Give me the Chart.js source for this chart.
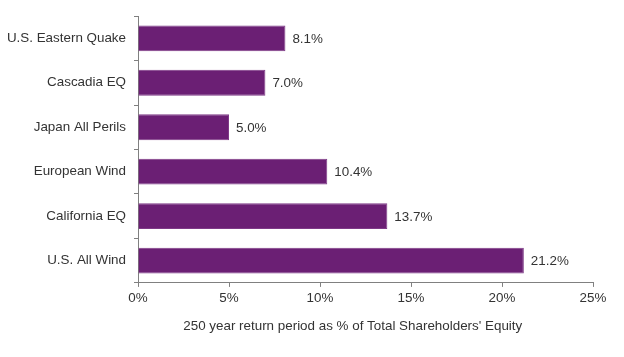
<!DOCTYPE html>
<html><head><meta charset="utf-8">
<script src="https://cdn.jsdelivr.net/npm/chart.js@4/dist/chart.umd.min.js"></script>
<style>html,body{margin:0;padding:0;background:#fff}#wrap{width:624px;height:357px;position:relative}</style>
</head><body><div id="wrap"><canvas id="c" width="624" height="357"></canvas></div>
<script>
const categories = ["U.S. Eastern Quake","Cascadia EQ","Japan All Perils","European Wind","California EQ","U.S. All Wind"];
const values = [8.1, 7.0, 5.0, 10.4, 13.7, 21.2];
const valueLabels = ["8.1%","7.0%","5.0%","10.4%","13.7%","21.2%"];
const xTicks = [0,5,10,15,20,25];
const axisTitle = "250 year return period as % of Total Shareholders' Equity";

const FONT = "'Liberation Sans', Arial, sans-serif";
const TXT = "#333333";
const FS = 13.4;

const valuePlugin = {
  id: 'valueLabels',
  afterDatasetsDraw(chart) {
    const ctx = chart.ctx;
    const meta = chart.getDatasetMeta(0);
    ctx.save();
    ctx.font = FS + "px " + FONT;
    ctx.fillStyle = TXT;
    ctx.textAlign = 'left';
    ctx.textBaseline = 'middle';
    meta.data.forEach((bar, i) => {
      ctx.fillText(valueLabels[i], bar.x + 7, bar.y + 1);
    });
    // axis title, placed as in the reference (slightly left of the plot centre)
    const xs = chart.scales.x;
    ctx.textAlign = 'center';
    ctx.fillText(axisTitle, xs.getPixelForValue(11.8), xs.bottom + 17);
    ctx.restore();
  }
};

new Chart(document.getElementById('c'), {
  type: 'bar',
  data: {
    labels: categories,
    datasets: [{
      data: values,
      backgroundColor: '#6B1F74',
      borderColor: '#7E3A87',
      borderWidth: 1,
      barPercentage: 0.58,
      categoryPercentage: 1.0
    }]
  },
  options: {
    indexAxis: 'y',
    responsive: false,
    animation: false,
    layout: { padding: { top: 15, right: 31, left: 0, bottom: 48 } },
    plugins: { legend: { display: false }, tooltip: { enabled: false } },
    scales: {
      x: {
        min: 0, max: 25,
        afterBuildTicks(axis) { axis.ticks = xTicks.map(v => ({ value: v })); },
        ticks: {
          callback: v => v + '%',
          font: { family: FONT, size: FS },
          color: TXT,
          padding: 3
        },
        grid: { display: true, drawOnChartArea: false, drawTicks: true, tickLength: 4, color: '#808080' },
        border: { display: true, color: '#808080', width: 1 }
      },
      y: {
        afterFit(axis) { axis.width = 138; },
        ticks: {
          font: { family: FONT, size: FS },
          color: TXT,
          padding: 8
        },
        grid: { display: true, drawOnChartArea: false, drawTicks: true, tickLength: 4, color: '#808080', offset: true },
        border: { display: true, color: '#808080', width: 1 }
      }
    }
  },
  plugins: [valuePlugin]
});
</script></body></html>
